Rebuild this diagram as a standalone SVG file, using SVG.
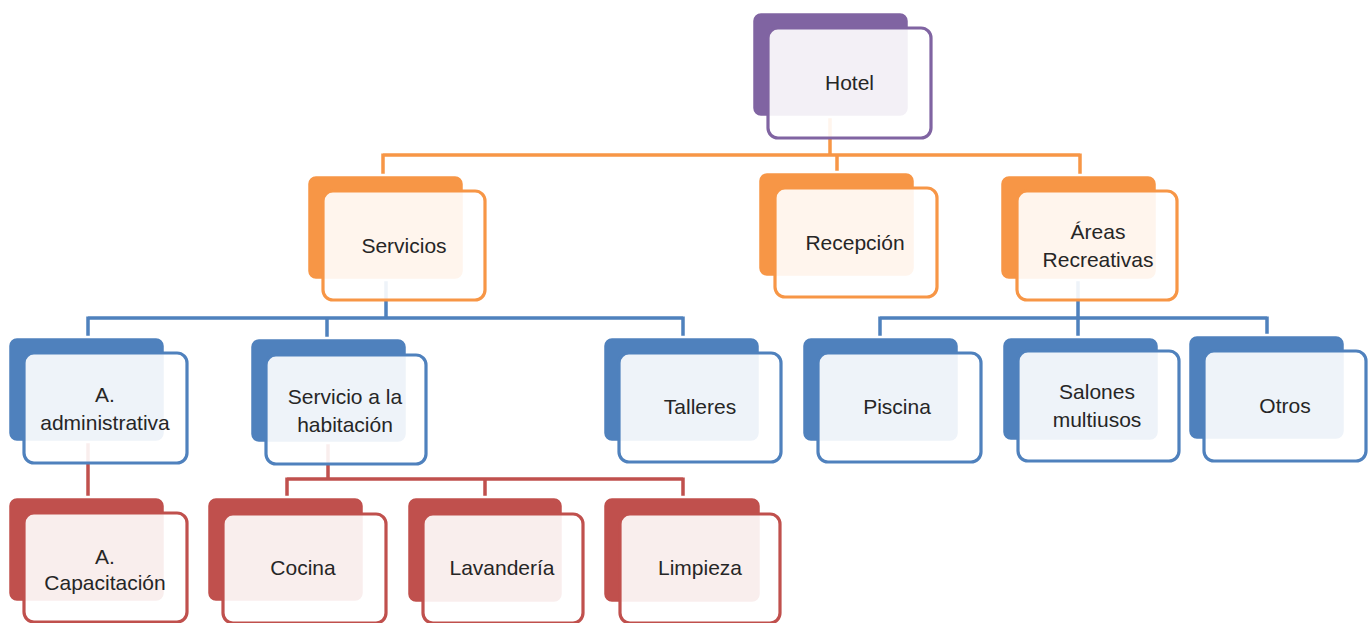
<svg xmlns="http://www.w3.org/2000/svg" width="1371" height="623" viewBox="0 0 1371 623">
<style>
.bk{stroke:#fff;stroke-width:2.5}
.fr{fill:#fff;fill-opacity:0.9;stroke-width:3.2}
.p .bk{fill:#8064A2}.p .fr{stroke:#8064A2}
.o .bk{fill:#F79646}.o .fr{stroke:#F79646}
.b .bk{fill:#4F81BD}.b .fr{stroke:#4F81BD}
.r .bk{fill:#C0504D}.r .fr{stroke:#C0504D}
text{font-family:"Liberation Sans",Arial,sans-serif;font-size:21px;fill:#262626;text-anchor:middle}
.c{fill:none;stroke-width:3.5}
.co{stroke:#F79646}.cb{stroke:#4F81BD}.cr{stroke:#C0504D}
</style>
<rect width="1371" height="623" fill="#fff"/>
<g id="connectors">
<path class="c co" d="M830 118V155M383 155H1080M383 153.5V175M837 155V172M1080 153.5V175"/>
<path class="c cb" d="M386 281V318M88 318H683M88 316.5V337M327 318V338M683 316.5V337"/>
<path class="c cb" d="M1078 281V318M880 318H1267M880 316.5V337M1078 318V337M1267 316.5V335"/>
<path class="c cr" d="M88 442V497"/>
<path class="c cr" d="M328 443V479M287 479H683M287 477.5V497M485 479V497M683 477.5V497"/>
</g>
<g id="hotel" class="p"><rect class="bk" x="752" y="12" width="157" height="105" rx="9"/><rect class="fr" x="768" y="28" width="163" height="110" rx="10"/><text x="849.5" y="90">Hotel</text></g>
<g id="servicios" class="o"><rect class="bk" x="307" y="175" width="157" height="105" rx="9"/><rect class="fr" x="323" y="191" width="162" height="109" rx="10"/><text x="404" y="253">Servicios</text></g>
<g id="recepcion" class="o"><rect class="bk" x="758" y="172" width="157" height="105" rx="9"/><rect class="fr" x="775" y="188" width="162" height="109" rx="10"/><text x="855" y="250">Recepción</text></g>
<g id="areas" class="o"><rect class="bk" x="1000" y="175" width="157" height="105" rx="9"/><rect class="fr" x="1017" y="191" width="160" height="109" rx="10"/><text x="1098" y="239">Áreas</text><text x="1098" y="267">Recreativas</text></g>
<g id="administrativa" class="b"><rect class="bk" x="8" y="337" width="157" height="105" rx="9"/><rect class="fr" x="24" y="353" width="163" height="110" rx="10"/><text x="105" y="402">A.</text><text x="105" y="430">administrativa</text></g>
<g id="habitacion" class="b"><rect class="bk" x="250" y="338" width="157" height="105" rx="9"/><rect class="fr" x="266" y="355" width="160" height="109" rx="10"/><text x="345" y="404">Servicio a la</text><text x="345" y="432">habitación</text></g>
<g id="talleres" class="b"><rect class="bk" x="603" y="337" width="157" height="105" rx="9"/><rect class="fr" x="619" y="353" width="162" height="109" rx="10"/><text x="700" y="414">Talleres</text></g>
<g id="piscina" class="b"><rect class="bk" x="802" y="337" width="157" height="105" rx="9"/><rect class="fr" x="818" y="353" width="163" height="109" rx="10"/><text x="897" y="414">Piscina</text></g>
<g id="salones" class="b"><rect class="bk" x="1002" y="337" width="157" height="104" rx="9"/><rect class="fr" x="1018" y="351" width="161" height="110" rx="10"/><text x="1097" y="399">Salones</text><text x="1097" y="427">multiusos</text></g>
<g id="otros" class="b"><rect class="bk" x="1188" y="335" width="157" height="105" rx="9"/><rect class="fr" x="1204" y="351" width="162" height="110" rx="10"/><text x="1285" y="413">Otros</text></g>
<g id="capacitacion" class="r"><rect class="bk" x="8" y="497" width="157" height="105" rx="9"/><rect class="fr" x="24" y="513" width="163" height="109" rx="10"/><text x="105" y="564">A.</text><text x="105" y="590">Capacitación</text></g>
<g id="cocina" class="r"><rect class="bk" x="207" y="497" width="157" height="105" rx="9"/><rect class="fr" x="223" y="514" width="163" height="109" rx="10"/><text x="303" y="575">Cocina</text></g>
<g id="lavanderia" class="r"><rect class="bk" x="407" y="497" width="156" height="106" rx="9"/><rect class="fr" x="423" y="514" width="160" height="109" rx="10"/><text x="502" y="575">Lavandería</text></g>
<g id="limpieza" class="r"><rect class="bk" x="603" y="497" width="158" height="106" rx="9"/><rect class="fr" x="620" y="514" width="160" height="109" rx="10"/><text x="700" y="575">Limpieza</text></g>
</svg>
